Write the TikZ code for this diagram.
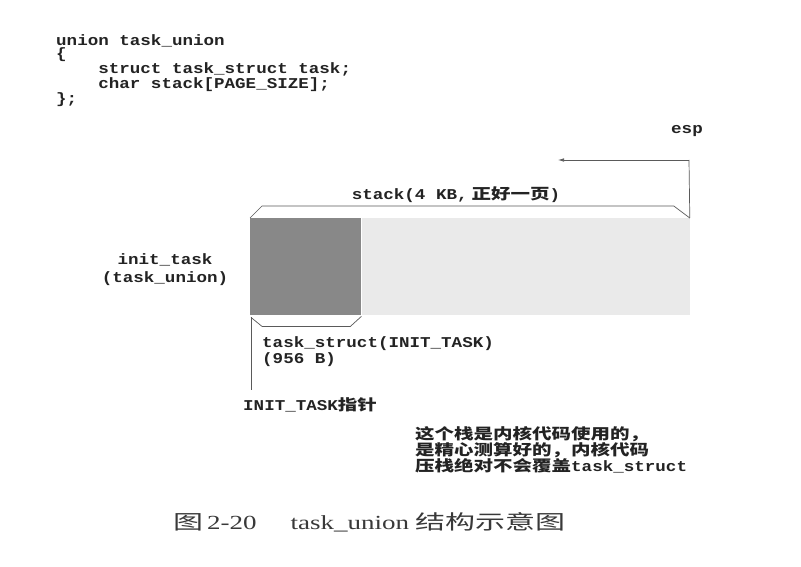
\documentclass[tikz,border=0pt]{standalone}
\usepackage{fontspec}
\setmainfont{Liberation Serif}[FakeStretch=1.35]
\setmonofont{Liberation Mono}[FakeStretch=1.17]
\newfontfamily\cjk{Noto Sans CJK SC}[FakeStretch=1.3]
\newfontfamily\capcjk{Noto Sans CJK SC}[FakeStretch=1.5]
\usetikzlibrary{calc,arrows.meta}
\definecolor{darkfill}{RGB}{136,136,136}
\definecolor{lightfill}{RGB}{234,234,234}
\definecolor{ink}{RGB}{35,35,35}

\begin{document}
\begin{tikzpicture}[x=1pt,y=-1pt,>={Latex[length=6pt,width=3.5pt]},
        lbl/.style={font=\fontsize{15}{16}\selectfont\ttfamily\bfseries,text=ink,inner sep=0pt},
        codeblock/.style={lbl,font=\fontsize{15}{13.5}\selectfont\ttfamily\bfseries},
        line/.style={draw=ink!75,line width=0.7pt},
        part/.style={minimum height=97pt,inner sep=0pt,anchor=north west}]
    \useasboundingbox[fill=white] (0,0) rectangle (801,567);
    % the union in C
    \node[codeblock,align=left,anchor=north west] (code) at (56,34) {union task\_union\\\{\\~~~~struct task\_struct task;\\~~~~char stack[PAGE\_SIZE];\\\};};
    % init_task in memory
    \node[part,fill=darkfill,minimum width=111pt] (ts) at (250,218) {};
    \node[part,fill=lightfill,minimum width=328pt] (st) at (ts.north east) {};
    \node[lbl,align=center,font=\fontsize{15}{18}\selectfont\ttfamily\bfseries] (init) at (165,270) {init\_task\\(task\_union)};
    % stack brace and esp
    \draw[line] (ts.north west) -- ++(12,-12) -- ($(st.north east)+(-16,-12)$) -- (st.north east);
    \node[lbl,anchor=base] (stk) at (456,200) {stack(4 KB,\hspace{4pt}{\cjk 正好一页})};
    \node[lbl,anchor=base east] (esp) at (703,134) {esp};
    \coordinate (espc) at (689,160);
    \coordinate (espt) at (558,160);
    \draw[line] (st.north east) -- (espc);
    \draw[line,->] (espc) -- (espt);
    % task_struct brace and pointer
    \coordinate (bl) at ($(ts.south west)+(1,2)$);
    \draw[line] (bl) -- ++(11,9) -- ($(ts.south east)+(-11,11)$) -- ($(ts.south east)+(0,1)$);
    \node[lbl,align=left,anchor=north west] (tsl) at (262,336) {task\_struct(INIT\_TASK)\\(956 B)};
    \node[lbl,anchor=base west] (ptr) at (243,410) {INIT\_TASK{\cjk 指针}};
    \draw[line] (bl) -- ($(bl |- ptr.north)+(0,-7)$);
    % note
    \node[lbl,align=left,anchor=north west] (note) at (415,426) {{\cjk 这个栈是内核代码使用的，}\\{\cjk 是精心测算好的，内核代码}\\{\cjk 压栈绝对不会覆盖}task\_struct};
    % caption
    \node[anchor=base west,inner sep=0pt,text=ink!90,font=\fontsize{20}{24}\selectfont] (cap) at (173,529) {{\capcjk 图}\hspace{4pt}2-20\hspace{34pt}task\_union\hspace{6pt}{\capcjk 结构示意图}};
\end{tikzpicture}
\end{document}
